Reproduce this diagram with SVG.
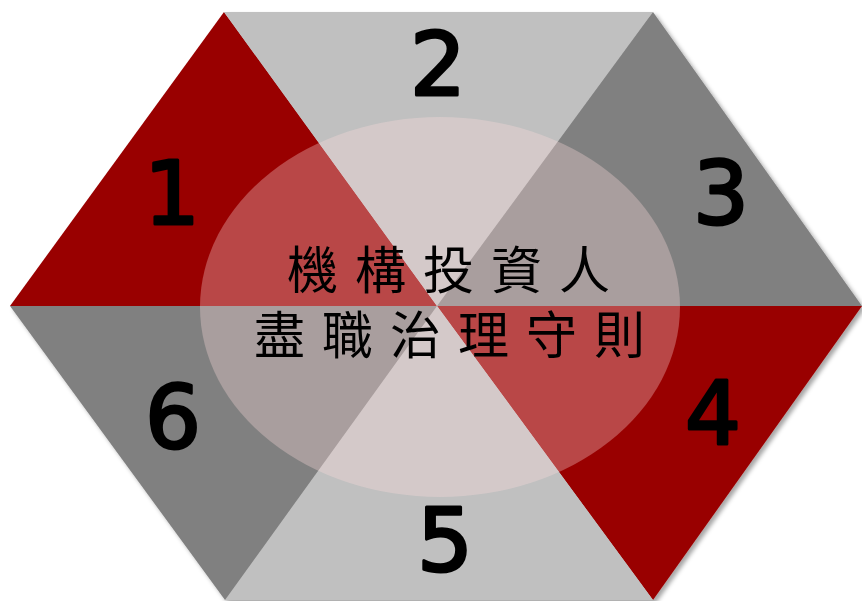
<svg xmlns="http://www.w3.org/2000/svg" width="862" height="601" viewBox="0 0 862 601">
<style>
.red{fill:#990000}
.lg{fill:#c0c0c0}
.dg{fill:#808080}
.num{font-family:"DejaVu Sans","Liberation Sans",sans-serif;font-size:88px;fill:#000;stroke:#000;stroke-width:3;stroke-linejoin:round;text-anchor:middle}
.title{font-family:"Noto Sans CJK TC","Noto Sans CJK SC",sans-serif;font-size:51px;fill:#000;letter-spacing:17px}
</style>
<defs>
<filter id="sh" x="-5%" y="-5%" width="110%" height="110%">
<feDropShadow dx="3" dy="3" stdDeviation="2" flood-color="#000" flood-opacity="0.35"/>
</filter>
</defs>
<rect width="862" height="601" fill="#fff"/>
<g id="hexagon" filter="url(#sh)">
<g id="seg1"><polygon class="red" points="10,306 224,12 437,306"/></g>
<g id="seg2"><polygon class="lg" points="224,12 653,12 437,306"/></g>
<g id="seg3"><polygon class="dg" points="653,12 862,306 437,306"/></g>
<g id="seg4"><polygon class="red" points="437,306 862,306 653,600"/></g>
<g id="seg5"><polygon class="lg" points="437,306 653,600 225,600"/></g>
<g id="seg6"><polygon class="dg" points="10,306 437,306 225,600"/></g>
</g>
<g id="labels">
<text class="num" x="172" y="224">1</text>
<text class="num" x="438" y="95">2</text>
<text class="num" x="721" y="224">3</text>
<text class="num" x="713" y="444">4</text>
<text class="num" x="445" y="571">5</text>
<text class="num" x="173" y="448">6</text>
</g>
<g id="center">
<ellipse cx="440" cy="307" rx="240" ry="190" fill="#ffdede" fill-opacity="0.32"/>
<text class="title" x="287" y="289">機構投資人</text>
<text class="title" x="254" y="354">盡職治理守則</text>
</g>
</svg>
